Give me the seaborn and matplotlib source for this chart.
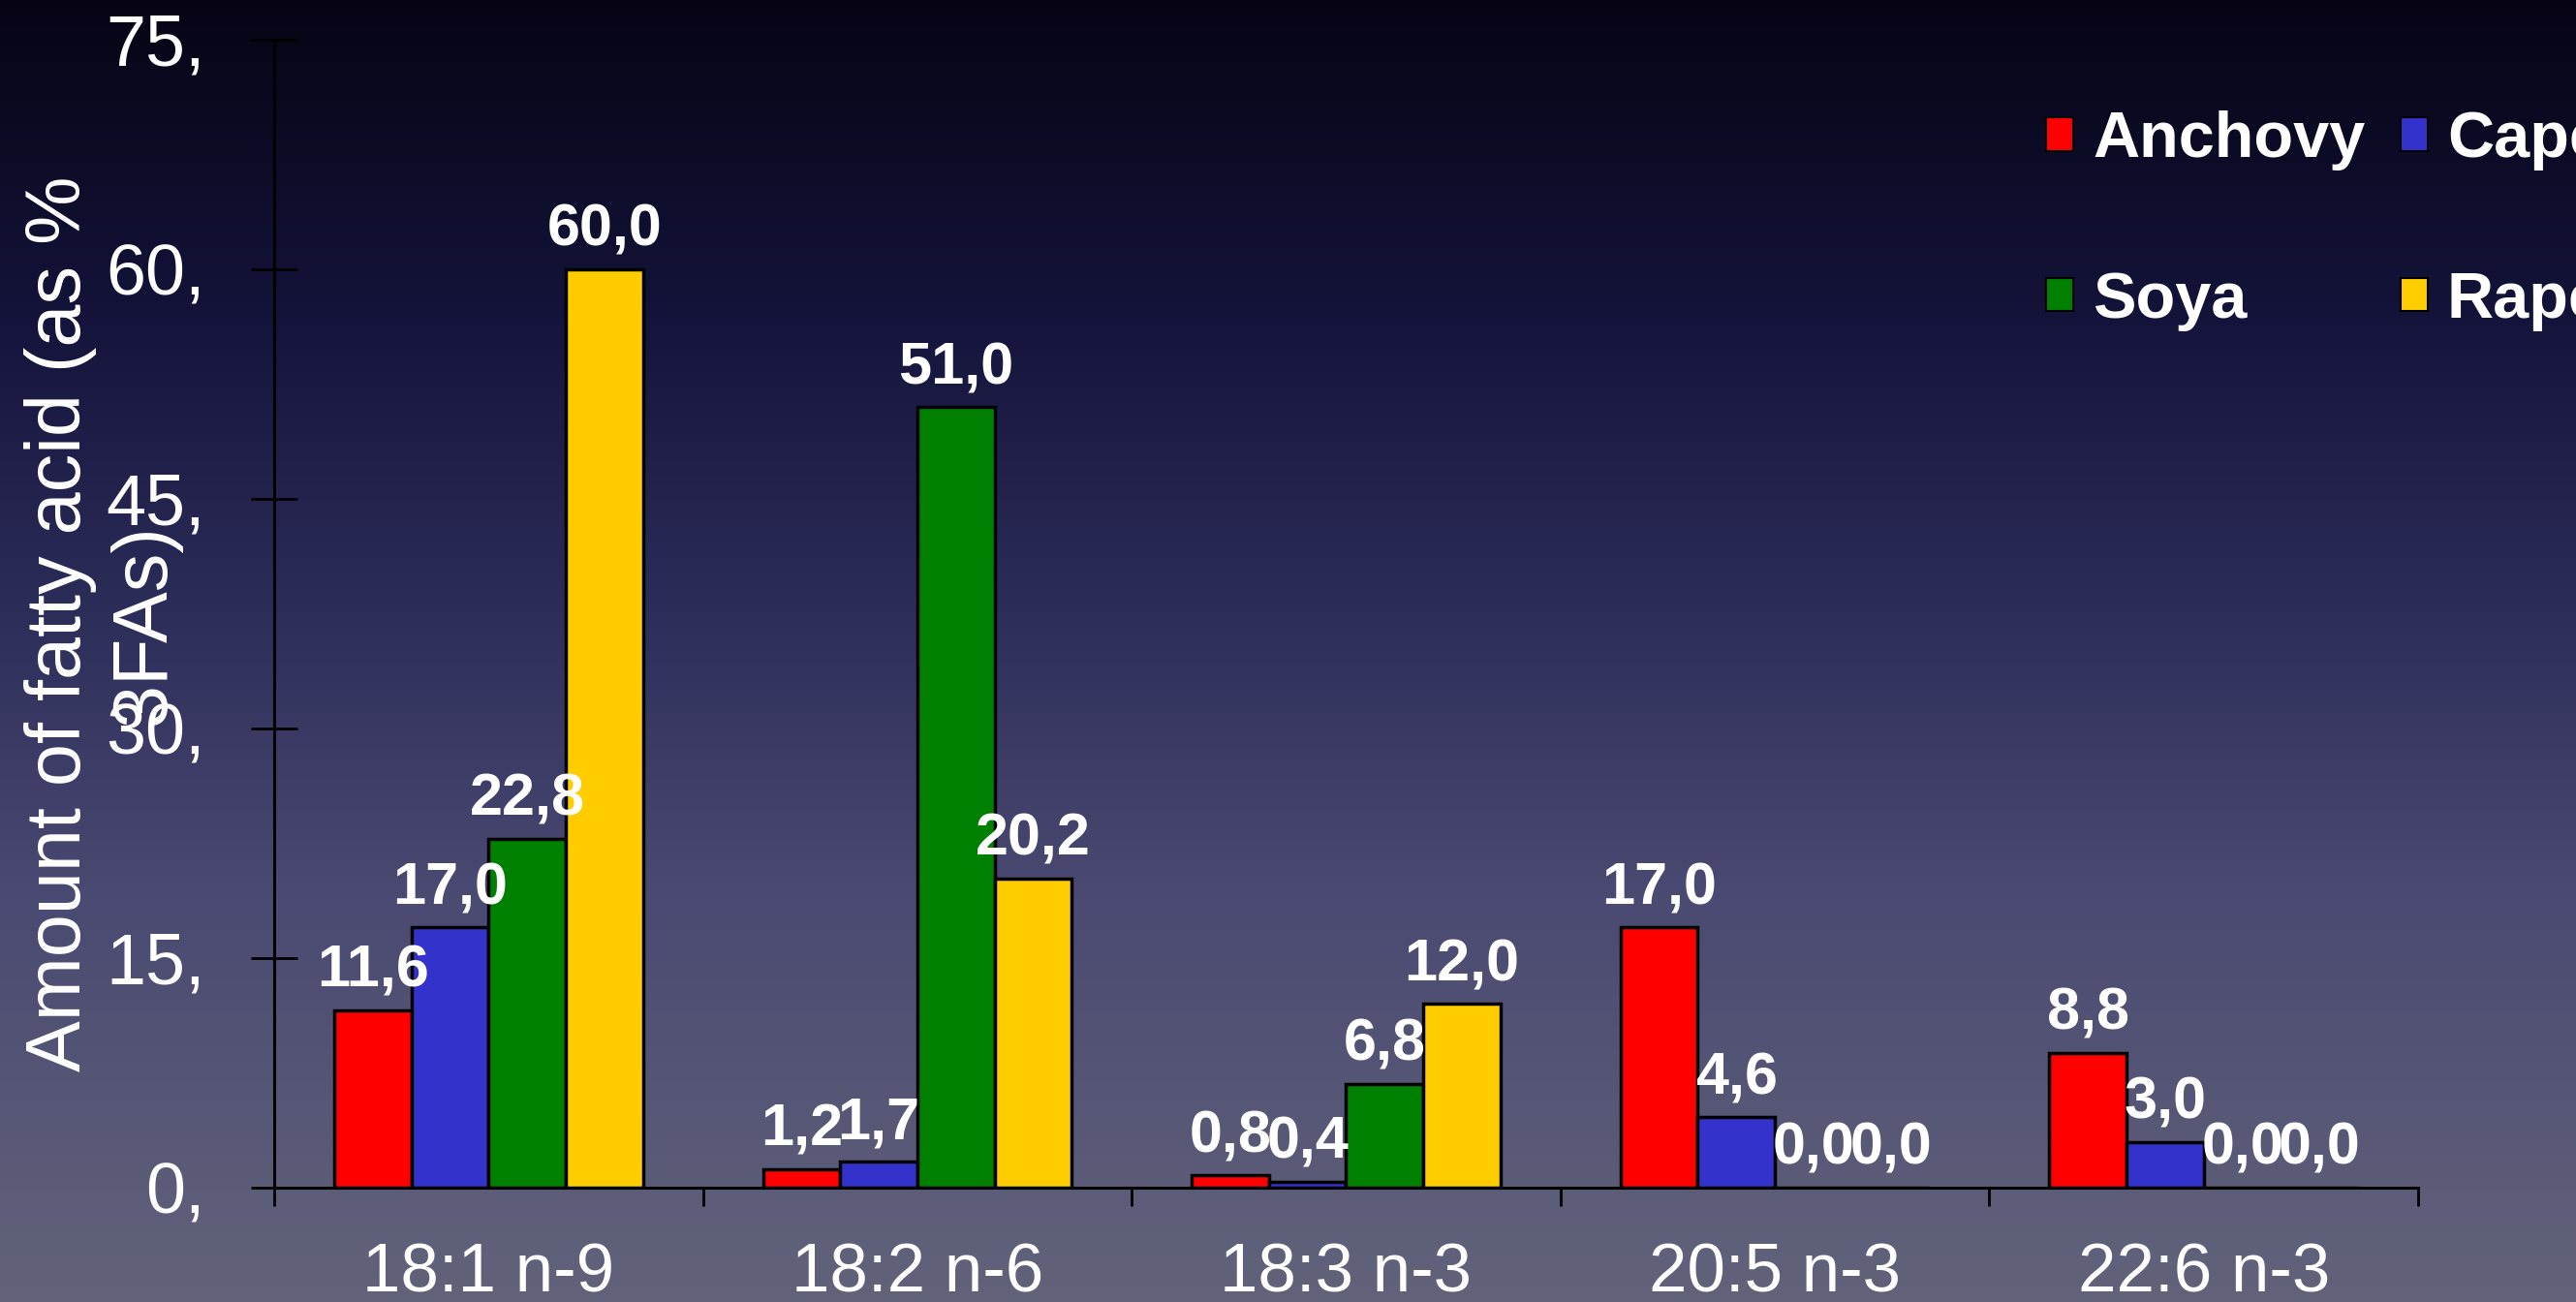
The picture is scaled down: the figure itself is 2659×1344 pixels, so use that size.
import pandas as pd
import numpy as np
import matplotlib
matplotlib.use('Agg')
import matplotlib.pyplot as plt
import seaborn as sns
from matplotlib import font_manager
from matplotlib.patches import Patch

# Fatty acid profile data
categories = ['18:1 n-9', '18:2 n-6', '18:3 n-3', '20:5 n-3', '22:6 n-3']
oils = ['Anchovy', 'Capelin', 'Soya', 'Rapeseed']
anchovy = [11.6, 1.2, 0.8, 17.0, 8.8]
capelin = [17.0, 1.7, 0.4, 4.6, 3.0]
soya = [22.8, 51.0, 6.8, 0.0, 0.0]
rapeseed = [60.0, 20.2, 12.0, 0.0, 0.0]
colors = ['#FF0000', '#3333CC', '#008000', '#FFCC00']
ytick_values = [0, 15, 30, 45, 60, 75]
ytick_labels = ['0,', '15,', '30,', '45,', '60,', '75,']

df = pd.DataFrame({
    'acid': categories * 4,
    'oil': [o for o in oils for _ in categories],
    'value': anchovy + capelin + soya + rapeseed,
})

plt.rcParams['font.family'] = ['Liberation Sans', 'DejaVu Sans']

try:
    font_manager.findfont('Liberation Sans Narrow', fallback_to_default=False)
    legend_family = 'Liberation Sans Narrow'
    legend_size = 55
except ValueError:
    legend_family = 'Liberation Sans'
    legend_size = 48

fig = plt.figure(figsize=(26.59, 13.44), dpi=100)

# background gradient (dark navy at top to grey-blue at bottom)
bg = fig.add_axes([0, 0, 1, 1], zorder=-10)
pos = [0.0, 0.25, 0.47, 0.69, 1.0]
stops = np.array([[6, 4, 20], [20, 20, 60], [45, 45, 90], [74, 74, 114], [98, 99, 122]]) / 255
t = np.linspace(0, 1, 512)
grad = np.stack([np.interp(t, pos, stops[:, k]) for k in range(3)], axis=1)
bg.imshow(grad[:, None, :], aspect='auto', extent=[0, 1, 0, 1])
bg.axis('off')

ax = fig.add_axes([0.1064, 0.0878, 0.8323, 0.8817])
ax.patch.set_alpha(0)

sns.barplot(
    data=df, x='acid', y='value', hue='oil',
    order=categories, hue_order=oils, palette=colors,
    width=0.72, saturation=1, edgecolor='black', linewidth=2.5,
    legend=False, ax=ax
)

for cont in ax.containers:
    ax.bar_label(cont, labels=[f'{v:.1f}'.replace('.', ',') for v in cont.datavalues],
                 padding=8, color='white', fontsize=44, fontweight='bold')

ax.set_xlim(-0.5, 4.5)
ax.set_ylim(0, 75)
ax.set_yticks(ytick_values)
ax.set_yticklabels(ytick_labels)
ax.tick_params(axis='y', direction='inout', length=34, width=2, pad=34,
               labelsize=53, labelcolor='white', color='black')
ax.set_xticks(range(len(categories)))
ax.set_xticklabels(categories)
ax.tick_params(axis='x', which='major', length=0, pad=41, labelsize=51, labelcolor='white')
ax.set_xticks(np.arange(-0.5, 5, 1), minor=True)
ax.tick_params(axis='x', which='minor', direction='out', length=14, width=2, color='black')

for s in ['top', 'right']:
    ax.spines[s].set_visible(False)
for s in ['left', 'bottom']:
    ax.spines[s].set_linewidth(2.2)
    ax.spines[s].set_color('black')

ax.set_xlabel('')
ax.set_ylabel('Amount of fatty acid (as %\n3FAs)', fontsize=57, color='white')
ax.yaxis.set_label_coords(-0.0434, 0.491)

handles = [Patch(facecolor=c, edgecolor='black', linewidth=1.5) for c in colors]
order = [0, 2, 1, 3]
fig.legend([handles[i] for i in order], [oils[i] for i in order],
           ncol=2, loc='upper left', bbox_to_anchor=(0.7943, 0.915),
           frameon=False, borderpad=0, borderaxespad=0,
           handlelength=0.42, handleheight=0.42, handletextpad=0.3,
           columnspacing=0.55, labelspacing=1.55,
           prop={'family': legend_family, 'weight': 'bold', 'size': legend_size},
           labelcolor='white')

fig.savefig('out.png', dpi=100)
